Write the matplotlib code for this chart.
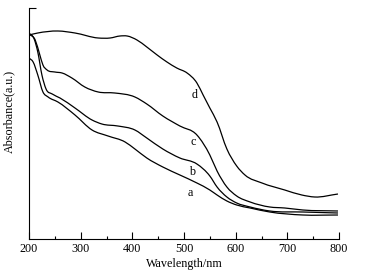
import matplotlib
matplotlib.use("Agg")
import matplotlib.pyplot as plt
from matplotlib.path import Path
from matplotlib.patches import PathPatch
import numpy as np

plt.rcParams['font.family'] = ['Liberation Serif', 'DejaVu Serif']

# absorbance curves (arbitrary units)
wl_a = [200, 208, 217, 227, 237, 256, 289, 322, 353, 386, 405, 428, 459, 492, 525, 550, 564, 583, 602, 628, 666, 730, 798]
abs_a = [181, 177, 164, 147, 142, 137, 124, 109, 103, 97, 90, 81, 72, 64, 56, 49, 44, 38, 34, 31, 27, 24, 24]

wl_b = [200, 210, 217, 225, 233, 245, 260, 289, 322, 341, 372, 405, 428, 459, 492, 525, 550, 564, 583, 602, 628, 666, 730, 798]
abs_b = [206, 200, 187, 164, 150, 145, 141, 131, 119, 115, 113, 109, 101, 90, 81, 75, 63, 52, 42, 36, 32, 28, 27, 26]

wl_c = [200, 212, 221, 227, 235, 250, 264, 283, 308, 334, 366, 405, 428, 459, 492, 525, 550, 564, 583, 602, 628, 666, 695, 730, 798]
abs_c = [205, 199, 184, 174, 169, 167, 166, 161, 152, 147, 146, 142, 135, 123, 113, 104, 84, 68, 52, 43, 37, 32, 31, 29, 28]

wl_d = [200, 217, 256, 289, 334, 357, 376, 390, 409, 428, 448, 467, 486, 506, 525, 537, 550, 564, 583, 602, 618, 651, 695, 728, 753, 798]
abs_d = [204, 206, 208, 206, 201, 201, 203, 203, 199, 192, 184, 177, 171, 166, 156, 144, 131, 117, 90, 73, 64, 56, 49, 44, 42, 45]

curve_names = ['a', 'b', 'c', 'd']
label_wl = [512, 515, 517, 521]
label_abs = [46, 67, 97, 144]


def smooth_path(xs, ys):
    # cubic Hermite segments drawn as Bezier curves through the read points
    xs = np.asarray(xs, float)
    ys = np.asarray(ys, float)
    m = np.gradient(ys, xs)
    verts = [(xs[0], ys[0])]
    codes = [Path.MOVETO]
    for i in range(len(xs) - 1):
        dx = xs[i + 1] - xs[i]
        verts += [(xs[i] + dx / 3, ys[i] + m[i] * dx / 3),
                  (xs[i + 1] - dx / 3, ys[i + 1] - m[i + 1] * dx / 3),
                  (xs[i + 1], ys[i + 1])]
        codes += [Path.CURVE4] * 3
    return Path(verts, codes)


def main():
    fig = plt.figure(figsize=(3.68, 2.79), dpi=100)
    ax = fig.add_axes([29 / 368, 40 / 279, 310 / 368, 231 / 279])

    for wl, ab in [(wl_a, abs_a), (wl_b, abs_b), (wl_c, abs_c), (wl_d, abs_d)]:
        ax.add_patch(PathPatch(smooth_path(wl, ab), fill=False, edgecolor='black', lw=0.9))

    for name, x, y in zip(curve_names, label_wl, label_abs):
        ax.text(x, y, name, fontsize=8.7, ha='center', va='center')

    ax.set_xlim(200, 800)
    ax.set_ylim(0, 231)
    ax.spines['top'].set_visible(False)
    ax.spines['right'].set_visible(False)
    ax.set_xticks(np.arange(200, 801, 100))
    ax.set_xticks(np.arange(250, 800, 100), minor=True)
    ax.tick_params(axis='x', which='major', direction='in', length=5, width=0.8, labelsize=8.7, pad=3)
    ax.tick_params(axis='x', which='minor', direction='in', length=2.5, width=0.8)
    ax.set_yticks([231])
    ax.set_yticklabels([''])
    ax.tick_params(axis='y', direction='in', length=5, width=0.8)

    ax.set_xlabel('Wavelength/nm', fontsize=8.7, labelpad=2)
    ax.set_ylabel('Absorbance(a.u.)', fontsize=8.7)
    ax.yaxis.set_label_coords(-0.045, 0.554)

    fig.savefig('out.png', dpi=100)


if __name__ == "__main__":
    main()
